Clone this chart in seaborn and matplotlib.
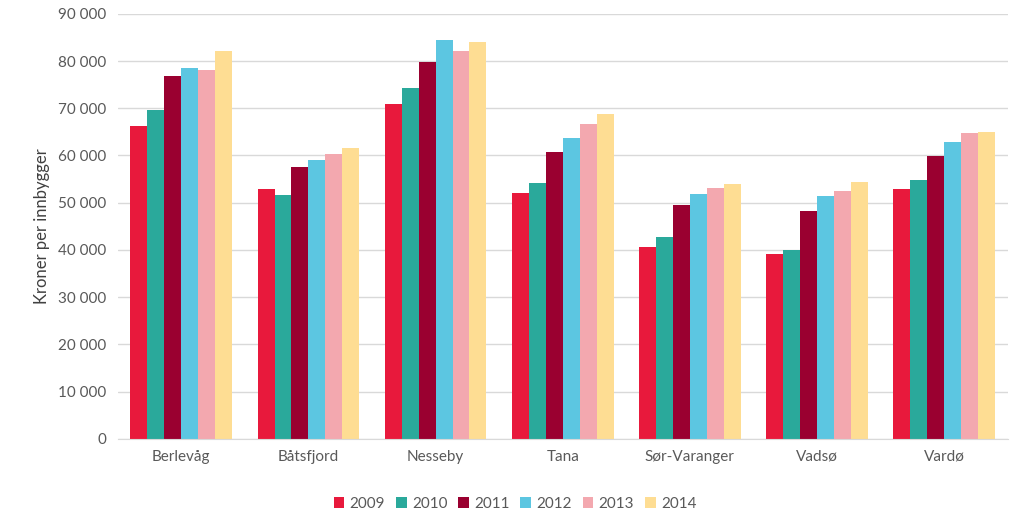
import seaborn as sns
import pandas as pd
import matplotlib.pyplot as plt
from matplotlib.ticker import FuncFormatter

kommuner = ['Berlevåg', 'Båtsfjord', 'Nesseby', 'Tana', 'Sør-Varanger', 'Vadsø', 'Vardø']
aar = ['2009', '2010', '2011', '2012', '2013', '2014']

v2009 = [66300, 53000, 70900, 52000, 40600, 39100, 52900]
v2010 = [69600, 51600, 74200, 54200, 42800, 40000, 54900]
v2011 = [76800, 57600, 79800, 60800, 49500, 48200, 59900]
v2012 = [78500, 59000, 84500, 63800, 51900, 51500, 62900]
v2013 = [78000, 60300, 82200, 66700, 53200, 52500, 64700]
v2014 = [82100, 61600, 84000, 68800, 54000, 54300, 64900]

farger = ['#E8193C', '#2AA99B', '#9A0030', '#5CC6E1', '#F3A8AF', '#FEDD93']

serier = [v2009, v2010, v2011, v2012, v2013, v2014]
rader = []
for a, verdier in zip(aar, serier):
    for k, v in zip(kommuner, verdier):
        rader.append({'Kommune': k, 'År': a, 'Verdi': v})
df = pd.DataFrame(rader)

sns.set_style('white')
plt.rcParams['font.family'] = ['Lato', 'DejaVu Sans']

fig, ax = plt.subplots(figsize=(10.24, 5.3), dpi=100)
fig.subplots_adjust(left=0.115, right=0.984, top=0.974, bottom=0.172)

sns.barplot(data=df, x='Kommune', y='Verdi', hue='År', palette=farger,
            width=0.8, saturation=1, linewidth=0, ax=ax, legend=True)

ax.set_ylim(0, 90000)
ax.set_yticks(range(0, 90001, 10000))
ax.yaxis.set_major_formatter(FuncFormatter(lambda v, p: f'{int(v):,}'.replace(',', ' ')))
ax.grid(axis='y', color='#D9D9D9', linewidth=1)
ax.set_axisbelow(True)
for s in ['top', 'right', 'left']:
    ax.spines[s].set_visible(False)
ax.spines['bottom'].set_color('#D9D9D9')
ax.tick_params(axis='both', length=0, labelsize=11, colors='#595959', pad=8)
ax.set_xlabel('')
ax.set_ylabel('Kroner per innbygger', fontsize=12, color='#404040', labelpad=6)

handles, labels = ax.get_legend_handles_labels()
ax.get_legend().remove()
fig.legend(handles, labels, loc='center', bbox_to_anchor=(0.503, 0.05), ncol=6, frameon=False,
           fontsize=11, handlelength=0.7, handleheight=0.7, handletextpad=0.35,
           columnspacing=0.7, labelcolor='#595959')

fig.savefig('out.png', dpi=100)
